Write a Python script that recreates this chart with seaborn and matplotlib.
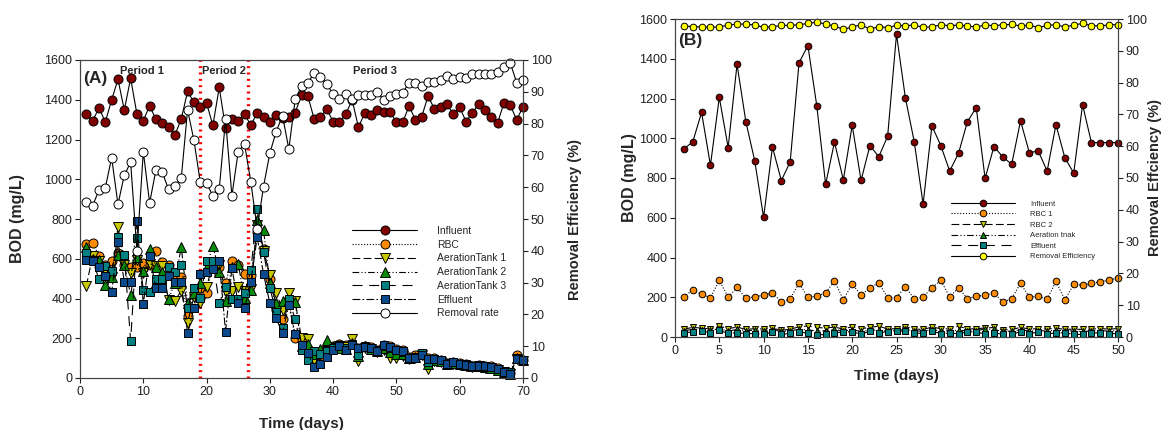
import numpy as np
import matplotlib
matplotlib.use("Agg")
import matplotlib.pyplot as plt
import seaborn as sns

sns.set_style("ticks")
plt.rcParams['font.family'] = ['Liberation Sans', 'DejaVu Sans']

# ---- panel A data (days 1..70) ----
days_a = np.arange(1, 71)
influent_a = [1328, 1293, 1360, 1288, 1399, 1503, 1348, 1508, 1327, 1295,
              1370, 1301, 1285, 1261, 1223, 1303, 1442, 1387, 1365, 1382,
              1271, 1462, 1258, 1305, 1295, 1328, 1271, 1335, 1315, 1290,
              1323, 1306, 1315, 1335, 1424, 1419, 1303, 1315, 1352, 1290,
              1286, 1328, 1399, 1261, 1335, 1323, 1348, 1338, 1337, 1288,
              1288, 1368, 1298, 1315, 1419, 1353, 1365, 1378, 1327, 1362,
              1290, 1335, 1377, 1348, 1315, 1285, 1385, 1373, 1298, 1365]
rbc_a = [674, 681, 614, 570, 590, 627, 569, 560, 560, 577,
         569, 641, 585, 569, 518, 510, 312, 418, 451, 429,
         577, 560, 480, 589, 569, 521, 520, 736, 650, 500,
         342, 295, 390, 200, 190, 147, 100, 113, 150, 160,
         173, 168, 170, 150, 160, 155, 140, 165, 160, 145,
         140, 105, 118, 120, 100, 100, 92, 75, 82, 76,
         70, 62, 65, 62, 58, 50, 32, 25, 118, 92]
tank1_a = [463, 615, 590, 543, 510, 760, 569, 530, 593, 527,
           573, 563, 563, 392, 389, 439, 278, 409, 376, 456,
           580, 569, 434, 439, 456, 440, 450, 770, 640, 518,
           430, 342, 429, 387, 199, 194, 93, 118, 138, 150,
           160, 155, 197, 88, 150, 145, 130, 140, 101, 101,
           110, 95, 100, 115, 45, 85, 80, 70, 72, 65,
           62, 55, 58, 50, 48, 40, 28, 20, 95, 85]
tank2_a = [660, 600, 593, 468, 510, 619, 569, 418, 610, 540,
           647, 560, 535, 396, 480, 660, 376, 430, 480, 560,
           664, 535, 389, 560, 573, 401, 443, 795, 745, 476,
           379, 387, 390, 384, 160, 173, 120, 147, 189, 155,
           150, 148, 175, 110, 160, 148, 135, 150, 130, 120,
           120, 100, 105, 120, 70, 90, 85, 72, 75, 68,
           65, 58, 60, 55, 50, 42, 30, 22, 100, 90]
tank3_a = [630, 594, 496, 563, 540, 708, 619, 188, 705, 443,
           434, 496, 496, 560, 532, 569, 350, 451, 401, 590,
           590, 376, 459, 396, 396, 429, 543, 849, 636, 451,
           334, 250, 396, 295, 143, 93, 138, 120, 135, 150,
           165, 150, 170, 118, 160, 150, 140, 160, 150, 140,
           130, 100, 105, 125, 80, 95, 90, 75, 80, 70,
           70, 60, 62, 57, 55, 45, 35, 28, 100, 92]
effluent_a = [594, 590, 557, 515, 431, 685, 485, 481, 791, 372,
              615, 451, 451, 513, 481, 481, 225, 350, 523, 535,
              547, 590, 233, 552, 376, 350, 485, 708, 523, 376,
              300, 225, 367, 219, 168, 126, 54, 71, 106, 143,
              160, 143, 168, 152, 157, 152, 138, 168, 157, 143,
              135, 101, 101, 118, 98, 96, 89, 71, 79, 72,
              67, 59, 62, 59, 56, 47, 29, 22, 98, 89]
removal_a = [55.2, 54.2, 59.1, 59.8, 69.3, 54.6, 63.8, 67.8, 40.0, 71.2,
             55.1, 65.4, 64.7, 59.3, 60.4, 62.8, 84.3, 74.8, 61.7, 61.2,
             57.3, 59.4, 81.3, 57.3, 71.2, 73.6, 61.5, 47.0, 60.2, 70.7,
             77.5, 82.5, 72.0, 87.6, 91.8, 92.7, 96.0, 94.7, 92.4, 89.2,
             87.7, 89.3, 87.6, 89.0, 89.0, 89.0, 89.9, 87.4, 88.7, 89.2,
             89.7, 92.9, 92.7, 91.9, 93.1, 93.1, 93.7, 95.1, 94.0, 94.5,
             94.3, 95.7, 95.6, 95.5, 95.5, 96.2, 97.9, 99.0, 92.9, 93.7]
period_bounds = [19, 26.6]
period_labels = ["Period 1", "Period 2", "Period 3"]
period_label_x = [9.8, 22.8, 46.6]

# ---- panel B data (days 1..50) ----
days_b = np.arange(1, 51)
influent_b = [947, 981, 1130, 864, 1206, 953, 1372, 1083, 886, 602,
              956, 787, 881, 1380, 1466, 1164, 768, 981, 790, 1065,
              788, 963, 907, 1010, 1523, 1204, 983, 669, 1062, 963,
              835, 924, 1083, 1154, 798, 958, 906, 869, 1087, 927,
              936, 835, 1068, 902, 825, 1169, 978, 978, 978, 978]
rbc1_b = [203, 236, 215, 198, 285, 200, 250, 195, 203, 210,
          223, 175, 193, 270, 200, 205, 223, 282, 188, 267,
          210, 247, 273, 198, 198, 254, 191, 200, 248, 285,
          201, 248, 193, 205, 210, 223, 175, 193, 270, 200,
          205, 190, 280, 187, 265, 260, 270, 278, 286, 298]
rbc2_b = [40, 48, 45, 40, 55, 42, 50, 38, 42, 40,
          43, 35, 38, 52, 55, 48, 45, 50, 40, 52,
          42, 48, 55, 40, 42, 52, 40, 38, 50, 42,
          40, 55, 40, 42, 45, 48, 35, 38, 48, 40,
          42, 40, 45, 38, 40, 38, 40, 42, 40, 42]
aeration_b = [32, 38, 35, 33, 42, 30, 38, 32, 34, 30,
              36, 28, 32, 38, 36, 30, 32, 38, 30, 36,
              28, 35, 34, 30, 32, 38, 30, 30, 36, 32,
              30, 35, 30, 32, 40, 38, 28, 30, 36, 30,
              32, 30, 34, 32, 30, 28, 30, 32, 30, 32]
effluent_b = [22, 25, 30, 22, 33, 18, 22, 17, 17, 13,
              25, 13, 18, 27, 18, 10, 13, 22, 25, 27,
              13, 30, 22, 27, 30, 30, 19, 19, 30, 17,
              19, 17, 25, 27, 13, 22, 13, 13, 27, 17,
              25, 17, 19, 22, 13, 13, 19, 22, 17, 17]
removal_b = [97.8, 97.6, 97.5, 97.4, 97.5, 98.1, 98.4, 98.4, 98.1, 97.4,
             97.5, 98.0, 98.0, 98.2, 98.6, 99.0, 98.4, 97.8, 96.7, 97.5,
             98.2, 96.8, 97.6, 97.3, 98.0, 97.9, 98.1, 97.4, 97.5, 98.2,
             97.9, 98.1, 97.8, 97.5, 98.1, 97.9, 98.2, 98.3, 97.8, 98.1,
             97.3, 98.0, 98.2, 97.5, 98.1, 98.6, 97.9, 97.8, 98.2, 98.2]

DARKRED = '#800000'
ORANGE = '#ff8c00'
OLIVE = '#c8c800'
GREEN = '#0a8a0a'
TEAL = '#008080'
NAVY = '#0a4a8c'

ls_dot = (0, (1, 1.6))
ls_dash = (0, (7, 3))
ls_dashdotdot = (0, (6, 2, 1, 2, 1, 2))
ls_longdash = (0, (9, 6))
ls_dashdot = (0, (7, 2, 1.5, 2))


def series(ax, x, y, label, face, ls, marker, ms):
    sns.lineplot(x=x, y=y, ax=ax, label=label, legend=False, color='black',
                 linestyle=ls, linewidth=0.8, marker=marker, markersize=ms,
                 markerfacecolor=face, markeredgecolor='black',
                 markeredgewidth=0.7, clip_on=False)


def style_axes(ax, ax2, xmax, xstep):
    ax.set_xlim(0, xmax)
    ax.set_ylim(0, 1600)
    ax2.set_ylim(0, 100)
    ax.set_xticks(np.arange(0, xmax + 1, xstep))
    ax.set_yticks(np.arange(0, 1601, 200))
    ax2.set_yticks(np.arange(0, 101, 10))
    for a in (ax, ax2):
        a.tick_params(direction='out', length=3.5, width=0.8, labelsize=9,
                      pad=2, colors='#222222')
        for s in a.spines.values():
            s.set_linewidth(0.8)
            s.set_color('#444444')


fig = plt.figure(figsize=(11.61, 4.30), dpi=100)
axA = fig.add_axes([80 / 1161, 52 / 430, 443 / 1161, 318 / 430])
axA2 = axA.twinx()
axB = fig.add_axes([675 / 1161, 93 / 430, 443 / 1161, 318 / 430])
axB2 = axB.twinx()

# ---- panel A ----
for xb in period_bounds:
    axA.axvline(xb, color='red', linestyle=(0, (0.6, 1.3)), linewidth=2.4,
                zorder=1)
series(axA, days_a, influent_a, 'Influent', DARKRED, '-', 'o', 6.5)
series(axA, days_a, rbc_a, 'RBC', ORANGE, ls_dot, 'o', 6.5)
series(axA, days_a, tank1_a, 'AerationTank 1', OLIVE, ls_dash, 'v', 6.5)
series(axA, days_a, tank2_a, 'AerationTank 2', GREEN, ls_dashdotdot, '^', 6.5)
series(axA, days_a, tank3_a, 'AerationTank 3', TEAL, ls_longdash, 's', 6)
series(axA, days_a, effluent_a, 'Effluent', NAVY, ls_dashdot, 's', 6)
series(axA2, days_a, removal_a, 'Removal rate', 'white', '-', 'o', 6.5)
style_axes(axA, axA2, 70, 10)
axA.set_ylabel('BOD (mg/L)', fontsize=11.5, fontweight='bold', labelpad=14)
axA.set_xlabel('Time (days)', fontsize=11, fontweight='bold', labelpad=14)
axA2.set_ylabel('Removal Efficiency (%)', fontsize=10.5, fontweight='bold',
                labelpad=12)
axA.text(0.006, 0.965, '(A)', transform=axA.transAxes, fontsize=12.5,
         fontweight='bold', va='top')
for lab, px in zip(period_labels, period_label_x):
    axA.text(px, 1570, lab, ha='center', va='top', fontsize=8,
             fontweight='bold')
hA = axA.get_legend_handles_labels()
hA2 = axA2.get_legend_handles_labels()
axA2.legend(hA[0] + hA2[0], hA[1] + hA2[1], loc='upper left',
            bbox_to_anchor=(0.615, 0.478), frameon=False, fontsize=7.5,
            handlelength=6.2, handletextpad=1.9, labelspacing=0.36,
            borderpad=0, borderaxespad=0, numpoints=1)

# ---- panel B ----
series(axB, days_b, influent_b, 'Influent', DARKRED, '-', 'o', 4.8)
series(axB, days_b, rbc1_b, 'RBC 1', ORANGE, ls_dot, 'o', 4.8)
series(axB, days_b, rbc2_b, 'RBC 2', OLIVE, ls_dash, 'v', 4.8)
series(axB, days_b, aeration_b, 'Aeration tnak', GREEN, ls_dashdotdot, '^', 4.8)
series(axB, days_b, effluent_b, 'Effluent', TEAL, ls_longdash, 's', 4.5)
series(axB2, days_b, removal_b, 'Removal Efficiency', '#ffff00', '-', 'o', 4.8)
style_axes(axB, axB2, 50, 5)
axB.set_ylabel('BOD (mg/L)', fontsize=11.5, fontweight='bold', labelpad=2)
axB.set_xlabel('Time (days)', fontsize=11, fontweight='bold', labelpad=9)
axB2.set_ylabel('Removal Effciency (%)', fontsize=10.5, fontweight='bold',
                labelpad=1)
axB.text(0.006, 0.955, '(B)', transform=axB.transAxes, fontsize=12.5,
         fontweight='bold', va='top')
hB = axB.get_legend_handles_labels()
hB2 = axB2.get_legend_handles_labels()
axB2.legend(hB[0] + hB2[0], hB[1] + hB2[1], loc='upper left',
            bbox_to_anchor=(0.622, 0.43), frameon=False, fontsize=5.5,
            handlelength=8.4, handletextpad=2.0, labelspacing=0.42,
            borderpad=0, borderaxespad=0, numpoints=1)

fig.savefig('out.png', dpi=100)
